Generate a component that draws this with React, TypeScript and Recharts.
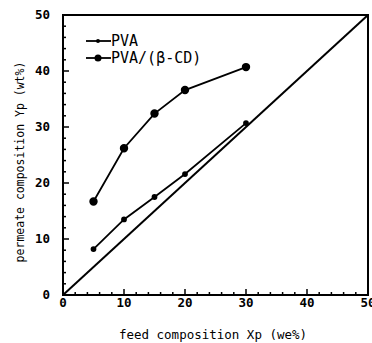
import React from 'react'
import {
  LineChart,
  Line,
  XAxis,
  YAxis,
  ReferenceLine,
  ReferenceArea,
  Legend,
  Label,
} from 'recharts'

const feed = [5, 10, 15, 20, 30]
const pva = [8.2, 13.5, 17.5, 21.6, 30.7]
const pvaCd = [16.7, 26.2, 32.4, 36.6, 40.7]
const axisTicks = [0, 2, 4, 6, 8, 10, 12, 14, 16, 18, 20, 22, 24, 26, 28, 30, 32, 34, 36, 38, 40, 42, 44, 46, 48, 50]

const data = feed.map((x, i) => ({ x, pva: pva[i], pvaCd: pvaCd[i] }))

const FONT = '"DejaVu Sans Mono", monospace'

function XTick({ x, y, payload }: { x?: number; y?: number; payload?: { value: number } }) {
  const v = payload?.value ?? 0
  const major = v % 10 === 0
  return (
    <g>
      <line x1={x} x2={x} y1={y} y2={(y ?? 0) - (major ? 6 : 3)} stroke="#000" strokeWidth={1.5} />
      {major && (
        <text x={x} y={(y ?? 0) + 12} textAnchor="middle" fontFamily={FONT} fontSize={12.5} fontWeight="bold" fill="#000">
          {v}
        </text>
      )}
    </g>
  )
}

function YTick({ x, y, payload }: { x?: number; y?: number; payload?: { value: number } }) {
  const v = payload?.value ?? 0
  const major = v % 10 === 0
  return (
    <g>
      <line x1={x} x2={(x ?? 0) + (major ? 6 : 3)} y1={y} y2={y} stroke="#000" strokeWidth={1.5} />
      {major && (
        <text x={(x ?? 0) - 13} y={(y ?? 0) + 4} textAnchor="end" fontFamily={FONT} fontSize={12.5} fontWeight="bold" fill="#000">
          {v}
        </text>
      )}
    </g>
  )
}

function LegendBox({ payload }: { payload?: Array<{ value: string; dataKey: string }> }) {
  return (
    <div style={{ fontFamily: FONT, fontSize: 15, color: '#000' }}>
      {(payload ?? []).map((entry) => (
        <div key={entry.dataKey} style={{ display: 'flex', alignItems: 'center', height: 17 }}>
          <svg width={25} height={12}>
            <line x1={0} x2={25} y1={6} y2={6} stroke="#000" strokeWidth={1.8} />
            <circle cx={12} cy={6} r={entry.dataKey === 'pva' ? 2 : 3.5} fill="#000" />
          </svg>
          <span>{entry.value}</span>
        </div>
      ))}
    </div>
  )
}

export default function App() {
  return (
    <div style={{ position: 'absolute', left: 0, top: 0, width: 372, height: 343, background: '#fff' }}>
      <LineChart width={372} height={343} data={data} margin={{ top: 15, right: 4, left: 0, bottom: 0 }}>
        <XAxis
          dataKey="x"
          type="number"
          domain={[0, 50]}
          ticks={axisTicks}
          interval={0}
          height={48}
          tickSize={0}
          tickMargin={0}
          tick={<XTick />}
          axisLine={{ stroke: '#000', strokeWidth: 2 }}
        >
          <Label
            content={() => (
              <text x={213} y={339} textAnchor="middle" fontFamily={FONT} fontSize={12.5} fill="#000">
                feed composition Xp (we%)
              </text>
            )}
          />
        </XAxis>
        <YAxis
          type="number"
          domain={[0, 50]}
          ticks={axisTicks}
          interval={0}
          width={63}
          tickSize={0}
          tickMargin={0}
          tick={<YTick />}
          axisLine={{ stroke: '#000', strokeWidth: 2 }}
        >
          <Label
            content={() => (
              <text x={24} y={162} transform="rotate(-90 24 162)" textAnchor="middle" fontFamily={FONT} fontSize={11.5} fill="#000">
                permeate composition Yp (wt%)
              </text>
            )}
          />
        </YAxis>
        <ReferenceArea x1={0} x2={50} y1={0} y2={50} fill="none" stroke="#000" strokeWidth={2} />
        <ReferenceLine
          segment={[{ x: 0, y: 0 }, { x: 50, y: 50 }]}
          stroke="#000"
          strokeWidth={2}
        />
        <Legend
          layout="horizontal"
          verticalAlign="middle"
          align="center"
          wrapperStyle={{ left: 86, top: 32, width: 'auto' }}
          content={<LegendBox />}
        />
        <Line
          dataKey="pva"
          name="PVA"
          stroke="#000"
          strokeWidth={1.8}
          dot={{ r: 2, fill: '#000', stroke: '#000' }}
          activeDot={false}
          isAnimationActive={false}
        />
        <Line
          dataKey="pvaCd"
          name="PVA/(β-CD)"
          stroke="#000"
          strokeWidth={1.8}
          dot={{ r: 3.3, fill: '#000', stroke: '#000' }}
          activeDot={false}
          isAnimationActive={false}
        />
      </LineChart>
    </div>
  )
}
